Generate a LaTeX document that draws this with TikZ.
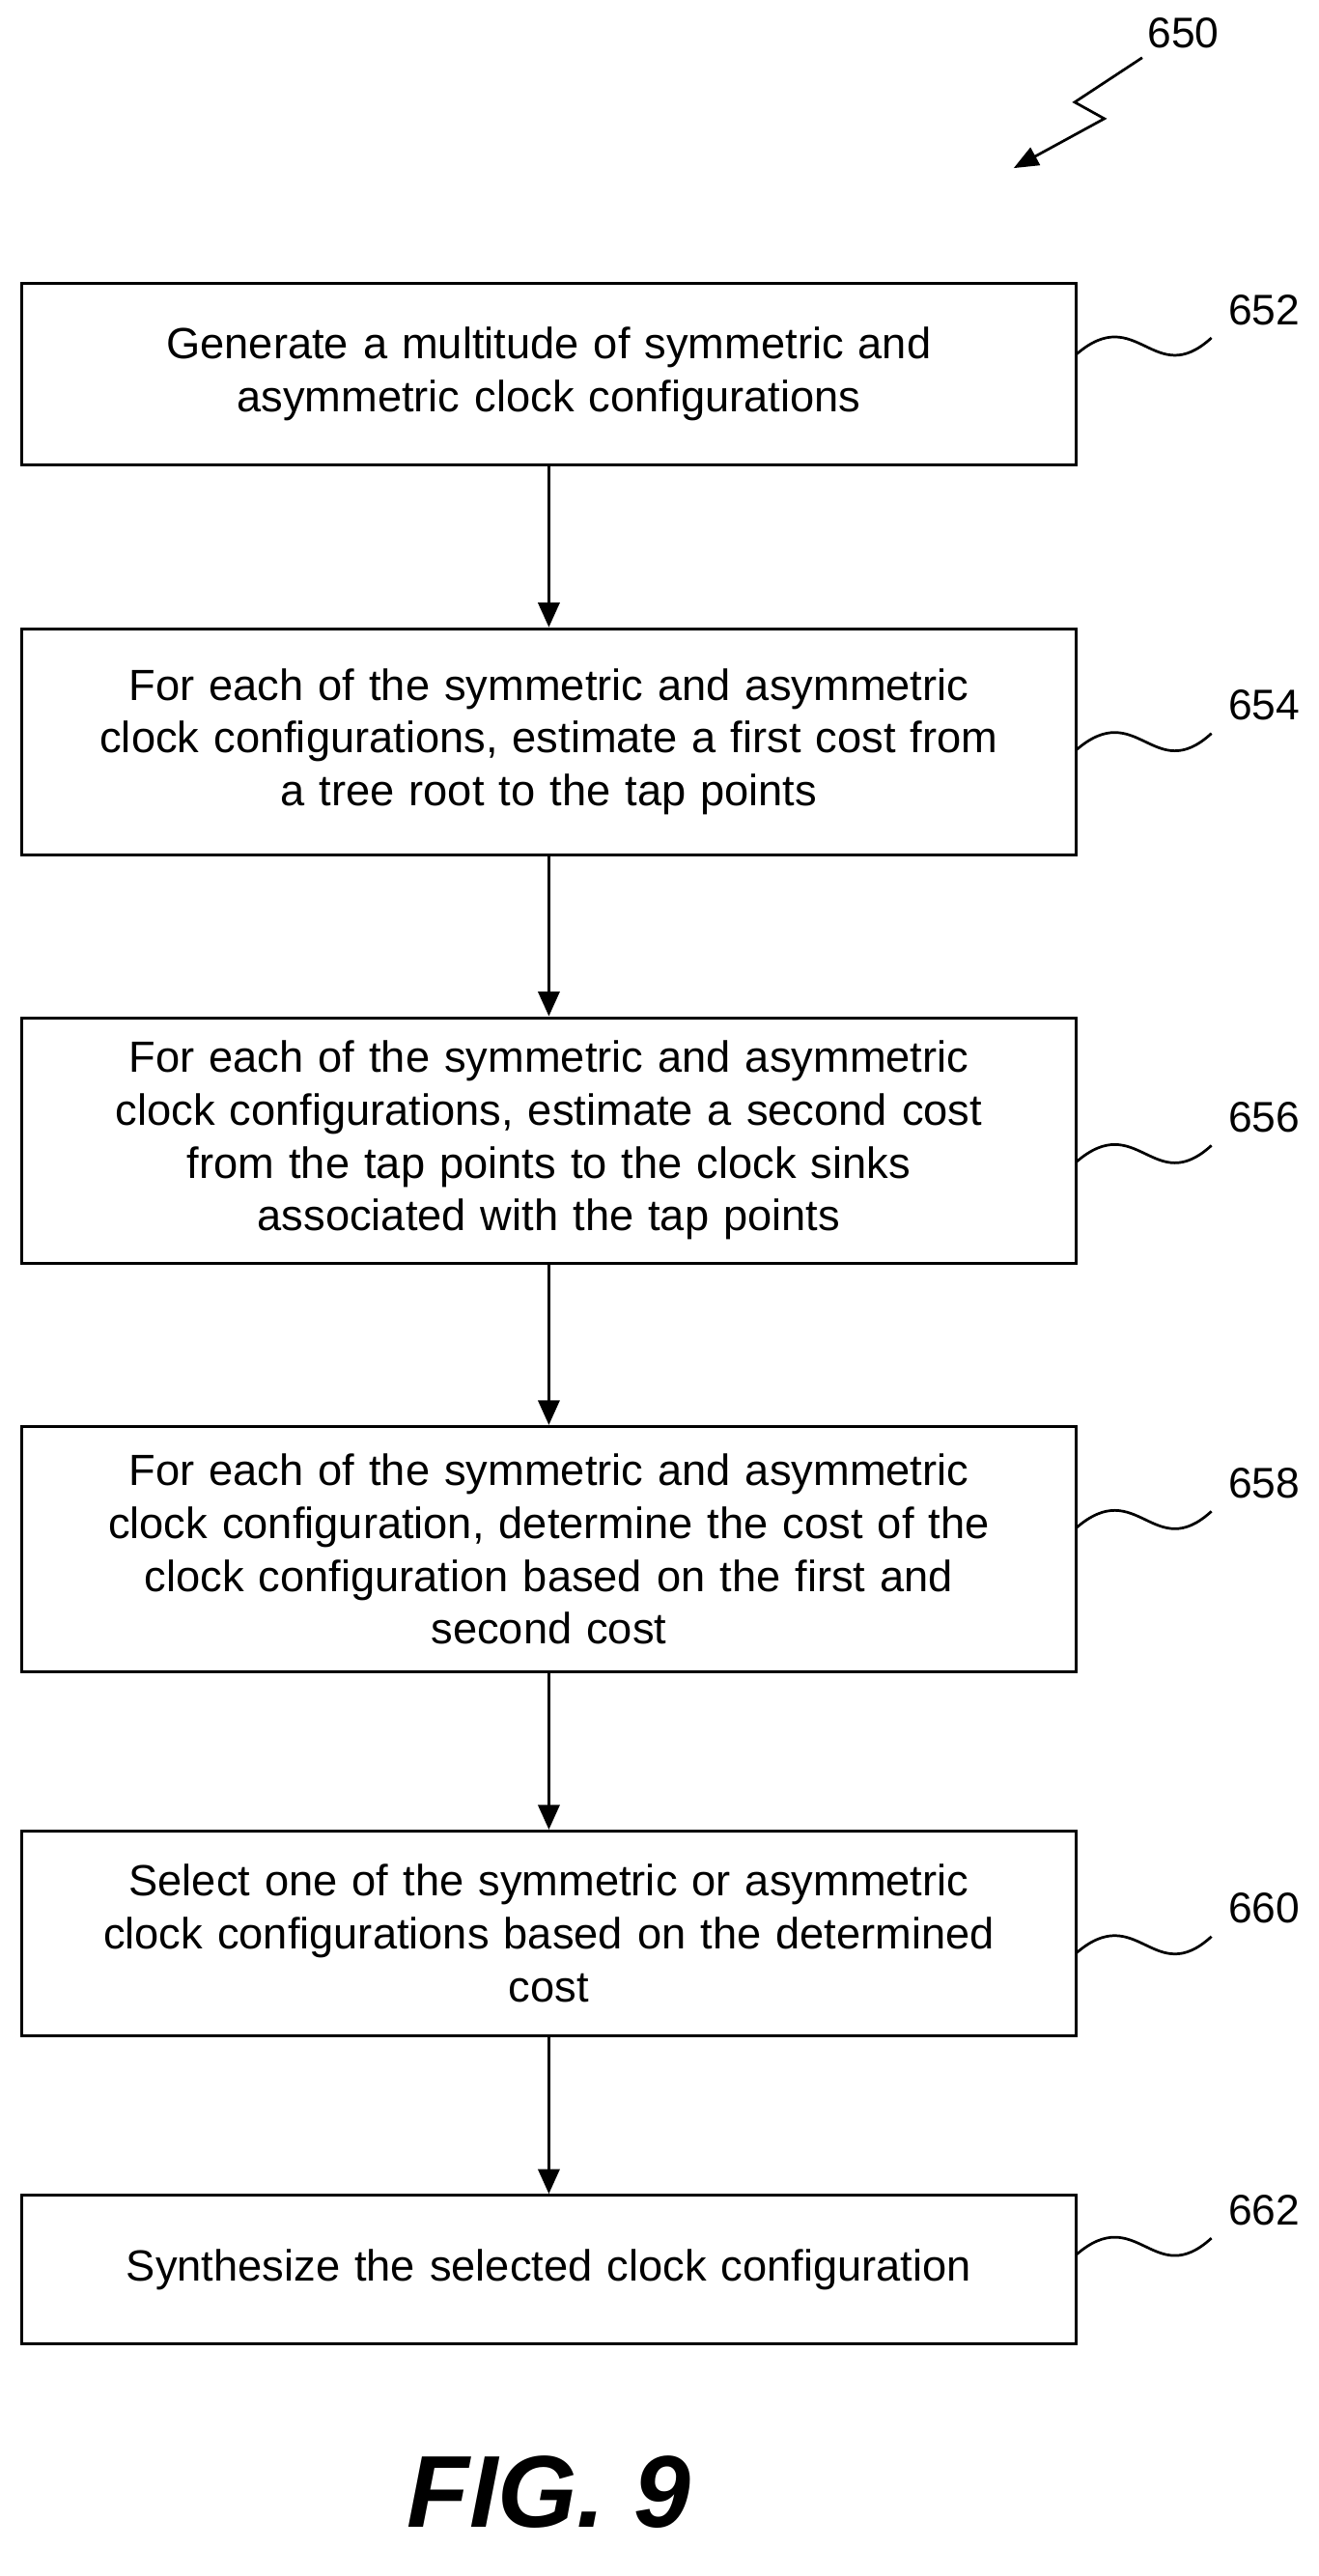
\documentclass[tikz,border=0pt]{standalone}
\usepackage{fontspec}
\setmainfont{Liberation Sans}
\usetikzlibrary{positioning,arrows.meta}
\tikzset{
  flowstep/.style={draw, line width=1.8pt, minimum width=640pt, text width=630pt, align=center,
    font=\fontsize{26.5}{32}\selectfont},
  flow/.style={-{Triangle[length=15pt,width=13pt]}, line width=1.8pt},
  squig/.style={line width=1.6pt},
  ref/.style={font=\fontsize{26}{30}\selectfont}
}
\begin{document}
\begin{tikzpicture}[x=1pt,y=-1pt]
	\useasboundingbox (0,0) rectangle (800,1563);
	% steps
	\node[flowstep, minimum height=110pt] (s652) at (333,227) {Generate a multitude of symmetric and\\asymmetric clock configurations};
	\node[flowstep, minimum height=137pt] (s654) at (333,450) {For each of the symmetric and asymmetric\\clock configurations, estimate a first cost from\\a tree root to the tap points};
	\node[flowstep, minimum height=149pt] (s656) at (333,692) {For each of the symmetric and asymmetric\\clock configurations, estimate a second cost\\from the tap points to the clock sinks\\associated with the tap points};
	\node[flowstep, minimum height=149pt] (s658) at (333,940) {For each of the symmetric and asymmetric\\clock configuration, determine the cost of the\\clock configuration based on the first and\\second cost};
	\node[flowstep, minimum height=124pt] (s660) at (333,1173) {Select one of the symmetric or asymmetric\\clock configurations based on the determined\\cost};
	\node[flowstep, minimum height=90pt] (s662) at (333,1377) {Synthesize the selected clock configuration};
	% arrows
	\draw[flow] (s652) -- (s654);
	\draw[flow] (s654) -- (s656);
	\draw[flow] (s656) -- (s658);
	\draw[flow] (s658) -- (s660);
	\draw[flow] (s660) -- (s662);
	% reference numerals
	\foreach \n/\y in {652/215, 654/455, 656/705, 658/927, 660/1185, 662/1368}{
		\node[ref] (r\n) at (767,\y-27) {\n};
		\coordinate (e\n) at (735,\y-10);
		\draw[squig] (653,\y) .. controls (690,\y-32) and (700,\y+22) .. (e\n);
	}
	\node[ref] (r650) at (718,20) {650};
	\coordinate (t650) at (615,102);
	\draw[squig, -{Triangle[length=15pt,width=12pt]}] (693,35) -- (652,62) -- (670,72) -- (t650);
	\node[font=\fontsize{62}{70}\selectfont\bfseries\itshape] (fig) at (333,1512) {FIG. 9};
\end{tikzpicture}
\end{document}
